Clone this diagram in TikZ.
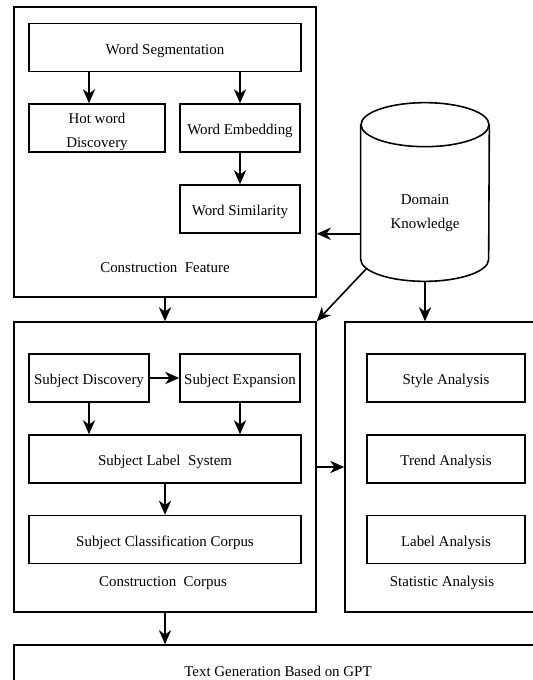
\documentclass[tikz,border=0pt]{standalone}
\usepackage{fontspec}
\setmainfont{Liberation Serif}
\usetikzlibrary{arrows.meta}
\tikzstyle{frame}=[rectangle,draw=black,line width=0.9pt,minimum width=6.04cm,minimum height=5.8cm,inner sep=0pt]
\tikzstyle{block}=[rectangle,draw=black,line width=0.9pt,minimum height=0.96cm,inner sep=0pt,text height=8pt,text depth=0.6pt,font=\fontsize{8.5}{14}\selectfont]
\tikzstyle{wide}=[block,minimum width=5.44cm]
\tikzstyle{half}=[block,minimum width=2.4cm]
\tikzstyle{statbox}=[block,minimum width=3.16cm]
\tikzstyle{store}=[rectangle,draw=none,minimum width=2.56cm,minimum height=3.56cm,inner sep=0pt]
\tikzstyle{outline}=[line width=0.9pt]
\tikzstyle{caption}=[inner sep=0pt,align=center,font=\fontsize{8.5}{14}\selectfont]
\tikzstyle{inarrow}=[-{Stealth[length=8pt,width=7pt,inset=2.5pt]},line width=0.9pt]
\pgfdeclarelayer{edgelayer}
\pgfdeclarelayer{nodelayer}
\pgfsetlayers{edgelayer,nodelayer,main}

\begin{document}
\begin{tikzpicture}[x=0.02cm,y=-0.02cm]
	\useasboundingbox (0,0) rectangle (533,680);
	\clip (0,0) rectangle (533,680);
	\begin{pgfonlayer}{nodelayer}
		% feature part
		\node [style=frame] (feat) at (165,152) {};
		\node [style=wide] (seg) at (165,47.5) {Word Segmentation};
		\node [style=block,minimum width=2.72cm] (hot) at (97,128) {};
		\node [style=caption] (hotlbl) at (97,132) {Hot word\\Discovery};
		\node [style=half] (emb) at (240,128) {Word Embedding};
		\node [style=half] (sim) at (240,209) {Word Similarity};
		\node [style=caption] (featlbl) at (165,268) {Construction~ Feature};
		\coordinate (hotin) at ([xshift=-0.16cm]hot.north);
		% knowledge base
		\node [style=store] (dom) at (425,192) {};
		\node [style=caption] (domlbl) at (425,213) {Domain\\Knowledge};
		\coordinate (domout) at (367,268);
		% corpus part
		\node [style=frame] (corp) at (165,467) {};
		\node [style=half] (disc) at (89,378) {Subject Discovery};
		\node [style=half] (exp) at (240,378) {Subject Expansion};
		\node [style=wide] (lab) at (165,459) {Subject Label~ System};
		\node [style=wide] (cls) at (165,539.5) {Subject Classification Corpus};
		\node [style=caption] (corplbl) at (163,583) {Construction~ Corpus};
		% statistic part
		\node [style=frame,minimum width=4.04cm] (stat) at (446,467) {};
		\node [style=statbox] (style) at (446,378) {Style Analysis};
		\node [style=statbox] (trend) at (446,459) {Trend Analysis};
		\node [style=statbox] (label) at (446,539.5) {Label Analysis};
		\node [style=caption] (statlbl) at (442,583) {Statistic Analysis};
		% generation
		\node [style=frame,minimum width=10.56cm,minimum height=1.1cm] (gen) at (278,672.5) {};
		\node [style=caption] (genlbl) at (278,671) {Text Generation Based on GPT};
	\end{pgfonlayer}
	% cylinder body
	\draw [style=outline] (dom.north west) ++(0,22) -- ([yshift=0.44cm]dom.south west)
		arc [start angle=180, end angle=0, x radius=64, y radius=22] -- ([yshift=-0.44cm]dom.north east);
	\draw [style=outline] ([yshift=-0.44cm]dom.north) ellipse [x radius=64, y radius=22];
	\begin{pgfonlayer}{edgelayer}
		\draw [style=inarrow] (seg.south -| hotin) to (hotin);
		\draw [style=inarrow] (seg.south -| emb.north) to (emb.north);
		\draw [style=inarrow] (emb.south) to (sim.north);
		\draw [style=inarrow] (dom.west |- sim.south) to (feat.east |- sim.south);
		\draw [style=inarrow] (domout) to (corp.north east);
		\draw [style=inarrow] (dom.south) to (dom.south |- stat.north);
		\draw [style=inarrow] (feat.south) to (corp.north);
		\draw [style=inarrow] (disc.east) to (exp.west);
		\draw [style=inarrow] (disc.south) to (disc.south |- lab.north);
		\draw [style=inarrow] (exp.south) to (exp.south |- lab.north);
		\draw [style=inarrow] (lab.south) to (cls.north);
		\draw [style=inarrow] (corp.east) to (stat.west);
		\draw [style=inarrow] (corp.south) to (corp.south |- gen.north);
	\end{pgfonlayer}
\end{tikzpicture}
\end{document}
